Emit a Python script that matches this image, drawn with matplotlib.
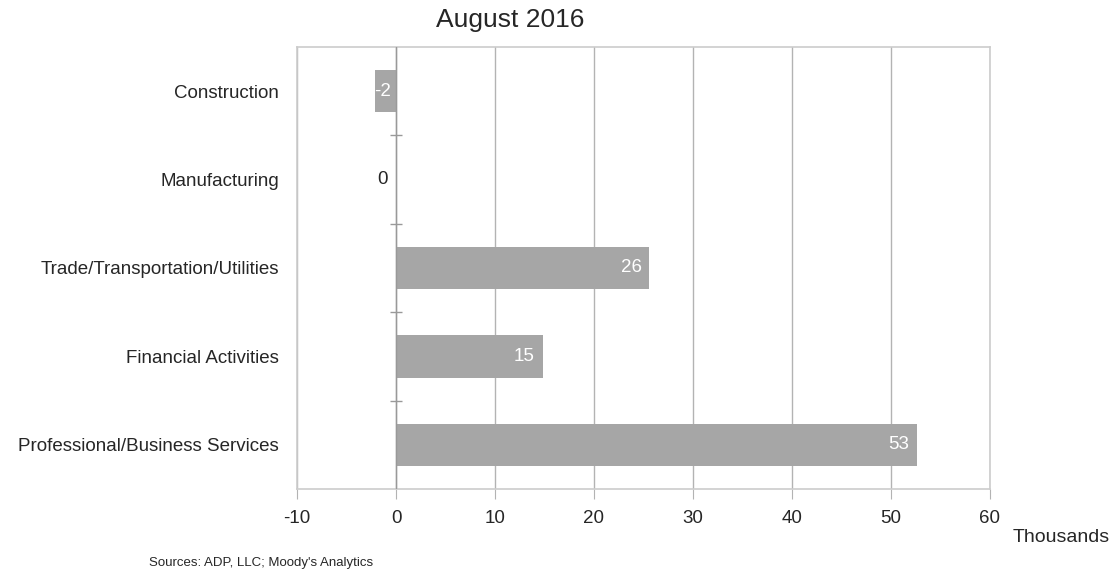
import numpy as np
import matplotlib.pyplot as plt

plt.rcParams['font.family'] = ['Liberation Sans', 'DejaVu Sans']

# Data (thousands of jobs, August 2016)
categories = ["Construction", "Manufacturing", "Trade/Transportation/Utilities",
              "Financial Activities", "Professional/Business Services"]
changes = [-2.1, 0.0, 25.6, 14.8, 52.6]
x_ticks = [-10, 0, 10, 20, 30, 40, 50, 60]

bar_color = "#a6a6a6"
grid_color = "#b3b3b3"
text_color = "#262626"

fig = plt.figure(figsize=(11.19, 5.78), dpi=100)
ax = fig.add_axes([297/1119, 1 - 489/578, (990-297)/1119, (489-47)/578])

y = np.arange(len(categories))
bars = ax.barh(y, changes, height=0.48, color=bar_color, zorder=3)

ax.set_xlim(x_ticks[0], x_ticks[-1])
ax.set_ylim(len(categories) - 0.5, -0.5)
ax.set_xticks(x_ticks)
ax.set_xticklabels([str(t) for t in x_ticks], fontsize=13.5, color=text_color)
ax.set_yticks(y)
ax.set_yticklabels(categories, fontsize=13.5, color=text_color)
ax.tick_params(axis='y', length=0, pad=13)
ax.tick_params(axis='x', length=7, color=grid_color, pad=8)

ax.grid(axis='x', color=grid_color, linewidth=1, zorder=0)
for s in ax.spines.values():
    s.set_color("#cccccc")
    s.set_linewidth(1.2)

# zero axis with separators between categories
ax.axvline(0, color="#999999", linewidth=1, zorder=4)
bounds = np.arange(len(categories) - 1) + 0.5
ax.plot(np.zeros_like(bounds), bounds, linestyle='none', marker='_',
        markersize=9, color="#999999", zorder=4)

# value labels
for bar, v in zip(bars, changes):
    yc = bar.get_y() + bar.get_height() / 2
    lbl = str(int(round(v)))
    if v > 0:
        ax.text(v - 0.8, yc, lbl, ha='right', va='center', color='white',
                fontsize=13.5, zorder=5)
    elif v < 0:
        ax.text(v - 0.1, yc, lbl, ha='left', va='center', color='white',
                fontsize=13.5, zorder=5)
    else:
        ax.text(-0.8, yc, lbl, ha='right', va='center', color=text_color,
                fontsize=13.5, zorder=5)

fig.text(510/1119, 1 - 20/578, "August 2016", ha='center', va='center',
         fontsize=19, color=text_color)
fig.text(1013/1119, 1 - 538/578, "Thousands", ha='left', va='center',
         fontsize=14, color=text_color)
fig.text(149/1119, 1 - 563/578, "Sources: ADP, LLC; Moody's Analytics", ha='left',
         va='center', fontsize=9.5, color=text_color)

plt.savefig("out.png", dpi=100)
